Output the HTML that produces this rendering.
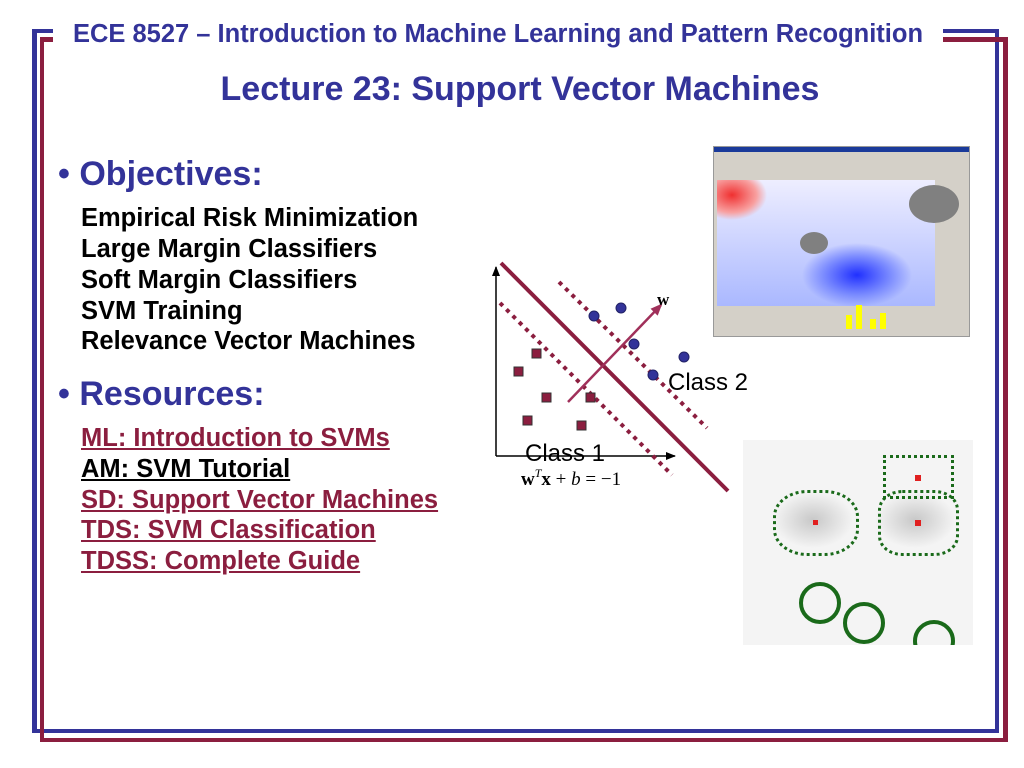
<!DOCTYPE html>
<html><head><meta charset="utf-8"><style>
body{margin:0;width:1024px;height:768px;position:relative;background:#fff;overflow:hidden;font-family:"Liberation Sans",sans-serif}
.a{position:absolute;white-space:nowrap;font-weight:bold}
.b{position:absolute}
.it{font-size:25.5px;line-height:26px;color:#000;left:81px}
.ln{font-size:25.5px;line-height:26px;left:81px;color:#8b1e3f;text-decoration:underline}
</style></head><body>
<!-- frames -->
<div class="b" style="left:32px;top:29px;width:21px;height:4px;background:#333399"></div>
<div class="b" style="left:32px;top:29px;width:5px;height:704px;background:#333399"></div>
<div class="b" style="left:32px;top:729px;width:967px;height:4px;background:#333399"></div>
<div class="b" style="left:995px;top:29px;width:4px;height:704px;background:#333399"></div>
<div class="b" style="left:943px;top:29px;width:56px;height:4px;background:#333399"></div>
<div class="b" style="left:40px;top:37px;width:13px;height:5px;background:#8b1e3f"></div>
<div class="b" style="left:40px;top:37px;width:4px;height:705px;background:#8b1e3f"></div>
<div class="b" style="left:40px;top:738px;width:968px;height:4px;background:#8b1e3f"></div>
<div class="b" style="left:1003px;top:37px;width:5px;height:705px;background:#8b1e3f"></div>
<div class="b" style="left:943px;top:37px;width:65px;height:5px;background:#8b1e3f"></div>

<div class="a" style="left:0;width:996px;text-align:center;top:20px;font-size:25.5px;line-height:28px;color:#333399">ECE 8527 – Introduction to Machine Learning and Pattern Recognition</div>
<div class="a" style="left:0;width:1040px;text-align:center;top:70px;font-size:34px;line-height:38px;color:#333399">Lecture 23: Support Vector Machines</div>

<div class="a" style="left:58px;top:155px;font-size:34px;line-height:38px;color:#333399">•&nbsp;Objectives:</div>
<div class="a it" style="top:205px">Empirical Risk Minimization</div>
<div class="a it" style="top:236px">Large Margin Classifiers</div>
<div class="a it" style="top:267px">Soft Margin Classifiers</div>
<div class="a it" style="top:298px">SVM Training</div>
<div class="a it" style="top:328px">Relevance Vector Machines</div>
<div class="a" style="left:58px;top:375px;font-size:34px;line-height:38px;color:#333399">•&nbsp;Resources:</div>
<div class="a ln" style="top:425px">ML: Introduction to SVMs</div>
<div class="a ln" style="top:456px;color:#000">AM: SVM Tutorial</div>
<div class="a ln" style="top:487px">SD: Support Vector Machines</div>
<div class="a ln" style="top:517px">TDS: SVM Classification</div>
<div class="a ln" style="top:548px">TDSS: Complete Guide</div>

<!-- screenshot image -->
<div class="b" style="left:713px;top:146px;width:255px;height:189px;background:#d4d0c8;border:1px solid #999;overflow:hidden">
 <div class="b" style="left:0;top:0;width:255px;height:5px;background:#1a3a9a"></div>
 <div class="b" style="left:3px;top:33px;width:218px;height:126px;background:radial-gradient(ellipse 55px 32px at 140px 95px,#2030ff,rgba(80,100,255,0.6) 60%,transparent),radial-gradient(ellipse 35px 25px at 15px 15px,#f03030,#f8a0a0 70%,transparent),linear-gradient(#eef,#aab8ff);"></div>
 <div class="b" style="left:195px;top:38px;width:50px;height:38px;border-radius:50%;background:#808080"></div>
 <div class="b" style="left:86px;top:85px;width:28px;height:22px;border-radius:50%;background:#808080"></div>
 <div class="b" style="left:132px;top:168px;width:6px;height:14px;background:#ff0"></div>
 <div class="b" style="left:142px;top:158px;width:6px;height:24px;background:#ff0"></div>
 <div class="b" style="left:156px;top:172px;width:6px;height:10px;background:#ff0"></div>
 <div class="b" style="left:166px;top:166px;width:6px;height:16px;background:#ff0"></div>
</div>
<!-- blob image -->
<div class="b" style="left:743px;top:440px;width:230px;height:205px;overflow:hidden;background:radial-gradient(ellipse 40px 28px at 70px 80px,#c8c8c8,transparent),radial-gradient(ellipse 40px 28px at 172px 80px,#c8c8c8,transparent),#f4f4f4">
 <div class="b" style="left:30px;top:50px;width:80px;height:60px;border:3px dotted #1a6a1a;border-radius:40%"></div>
 <div class="b" style="left:135px;top:50px;width:75px;height:60px;border:3px dotted #1a6a1a;border-radius:30%"></div>
 <div class="b" style="left:140px;top:15px;width:65px;height:38px;border:3px dotted #1a6a1a"></div>
 <div class="b" style="left:56px;top:142px;width:34px;height:34px;border:4px solid #1a6a1a;border-radius:50%"></div>
 <div class="b" style="left:100px;top:162px;width:34px;height:34px;border:4px solid #1a6a1a;border-radius:50%"></div>
 <div class="b" style="left:170px;top:180px;width:34px;height:34px;border:4px solid #1a6a1a;border-radius:50%"></div>
 <div class="b" style="left:70px;top:80px;width:5px;height:5px;background:#e02020"></div>
 <div class="b" style="left:172px;top:80px;width:6px;height:6px;background:#e02020"></div>
 <div class="b" style="left:172px;top:35px;width:6px;height:6px;background:#e02020"></div>
</div>

<svg class="b" style="left:0;top:0" width="1024" height="768">
 <defs><marker id="ar" markerWidth="10" markerHeight="8" refX="9" refY="4" orient="auto" markerUnits="userSpaceOnUse"><path d="M0,0L10,4L0,8z" fill="#000"/></marker>
 <marker id="ar2" markerWidth="12" markerHeight="10" refX="10" refY="5" orient="auto" markerUnits="userSpaceOnUse"><path d="M0,0L12,5L0,10z" fill="#a0305a"/></marker></defs>
 <line x1="496" y1="456" x2="496" y2="267" stroke="#000" stroke-width="1.5" marker-end="url(#ar)"/>
 <line x1="496" y1="456" x2="675" y2="456" stroke="#000" stroke-width="1.5" marker-end="url(#ar)"/>
 <line x1="501" y1="263" x2="728" y2="491" stroke="#8b1e3f" stroke-width="4"/>
 <line x1="559" y1="282" x2="707" y2="428" stroke="#8b1e3f" stroke-width="4" stroke-dasharray="4,5"/>
 <line x1="500" y1="303" x2="672" y2="475" stroke="#8b1e3f" stroke-width="4" stroke-dasharray="4,5"/>
 <line x1="568" y1="402" x2="661" y2="305" stroke="#a0305a" stroke-width="2.5" marker-end="url(#ar2)"/>
 <g fill="#333399" stroke="#222266"><circle cx="594" cy="316" r="5"/><circle cx="621" cy="308" r="5"/><circle cx="634" cy="344" r="5"/><circle cx="684" cy="357" r="5"/><circle cx="653" cy="375" r="5"/></g>
 <g fill="#8b1e3f" stroke="#333"><rect x="532" y="349" width="9" height="9"/><rect x="514" y="367" width="9" height="9"/><rect x="542" y="393" width="9" height="9"/><rect x="586" y="393" width="9" height="9"/><rect x="523" y="416" width="9" height="9"/><rect x="577" y="421" width="9" height="9"/></g>
 <text x="657" y="305" font-family="Liberation Serif,serif" font-size="17" font-weight="bold">w</text>
 <text x="668" y="390" font-family="Liberation Sans,sans-serif" font-size="24">Class 2</text>
 <text x="525" y="461" font-family="Liberation Sans,sans-serif" font-size="24">Class 1</text>
 <text x="521" y="485" font-family="Liberation Serif,serif" font-size="19"><tspan font-weight="bold">w</tspan><tspan dy="-8" font-size="12" font-style="italic">T</tspan><tspan dy="8" font-weight="bold">x</tspan> + <tspan font-style="italic">b</tspan> = −1</text>
</svg>
</body></html>
